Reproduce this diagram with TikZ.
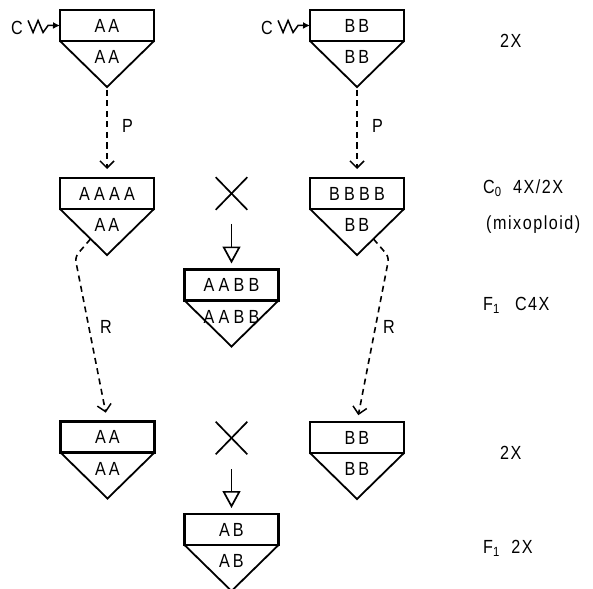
\documentclass[tikz,border=0pt]{standalone}
\usepackage{fontspec}
\setmainfont{Liberation Sans}
\newfontfamily\boxfont[LetterSpace=22,FakeStretch=0.85]{Liberation Sans}
\newfontfamily\labfont[LetterSpace=8,FakeStretch=0.85]{Liberation Sans}
\usetikzlibrary{arrows.meta,shapes.misc,calc}
\newcommand\gunit[5]{%
  \node[topbox] (#1) at (#2,#3) {#4};
  \draw[tri] (#1.south west) -- ($(#1.south)+(0,46)$) coordinate (#1-apex) -- (#1.south east);
  \node[boxtext] (#1-b) at ($(#1.south)+(0,16)$) {#5};}
\begin{document}
\begin{tikzpicture}[x=1pt,y=-1pt,
  topbox/.style={draw,line width=2.1pt,minimum width=94pt,minimum height=31pt,inner sep=0pt,outer sep=0pt,font=\boxfont\fontsize{19}{19}\selectfont},
  boxtext/.style={inner sep=0pt,font=\boxfont\fontsize{19}{19}\selectfont},
  tri/.style={line width=1.8pt,line join=miter},
  lab/.style={inner sep=0pt,anchor=base west,font=\labfont\fontsize{19}{19}\selectfont},
  dasharrow/.style={line width=1.6pt,dash pattern=on 6pt off 4.5pt,-{Straight Barb[length=7pt,width=14pt,line width=1.5pt]}},
  crossx/.style={draw,cross out,line width=1.7pt,minimum width=30pt,minimum height=31pt,inner sep=0pt},
  crossarrow/.style={line width=1.7pt,-{Triangle[open,length=17pt,width=18pt,line width=1.7pt]}},
  squig/.style={line width=1.5pt,line join=miter,-{Latex[length=7pt,width=7pt]}}
]
\useasboundingbox (0,0) rectangle (593,588);

% genotype units
\gunit{tL}{107}{25.5}{A\kern3pt A}{A\kern3pt A}
\gunit{tR}{357}{25.5}{B\kern3pt B}{B\kern3pt B}
\gunit{mL}{107}{193.5}{AAAA}{A\kern3pt A}
\gunit{mR}{357}{193.5}{BBBB}{B\kern3pt B}
\gunit{cf}{231.5}{285}{AABB}{AABB}
\gunit{bL}{107.5}{437}{A\kern3pt A}{A\kern3pt A}
\gunit{bR}{357}{437.5}{B\kern3pt B}{B\kern3pt B}
\gunit{fo}{231.5}{529.5}{A\kern3pt B}{A\kern3pt B}

% colchicine treatment
\node[lab] (cL) at (11,35) {C};
\node[lab] (cR) at (261,35) {C};
\draw[squig] (cL.east) ++(5,-8) -- ++(5,12) -- ++(5,-12) -- ++(5,12) -- ++(5,-7) -- (tL.west);
\draw[squig] (cR.east) ++(5,-8) -- ++(5,12) -- ++(5,-12) -- ++(5,12) -- ++(5,-7) -- (tR.west);

% P arrows
\draw[dasharrow,shorten <=3pt,shorten >=9pt] (tL-apex) -- (mL.north);
\draw[dasharrow,shorten <=3pt,shorten >=9pt] (tR-apex) -- (mR.north);
\node[lab] (pL) at (122,133) {P};
\node[lab] (pR) at (372,133) {P};

% R arrows
\coordinate (rLs) at ($(mL.south west)!0.65!(mL-apex)$);
\coordinate (rLc) at (75,257);
\coordinate (rRs) at ($(mR.south east)!0.65!(mR-apex)$);
\coordinate (rRc) at (389,257);
\draw[dasharrow,rounded corners=5pt,shorten >=9pt] (rLs) -- (rLc) -- (bL.north);
\draw[dasharrow,rounded corners=5pt,shorten >=7pt] (rRs) -- (rRc) -- (bR.north);
\node[lab] (rL) at (100,333) {R};
\node[lab] (rR) at (383,333) {R};

% crosses
\node[crossx] (x1) at (231.5,193.5) {};
\draw[crossarrow,shorten <=14pt,shorten >=6pt] (x1) -- (cf);
\node[crossx] (x2) at (231.5,438) {};
\draw[crossarrow,shorten <=15pt,shorten >=6pt] (x2) -- (fo);

% generation labels
\node[lab] (g1) at (500,48) {2X};
\node[lab] (g2) at (483,193) {C\textsubscript{0}\hspace{0.6em}4X/2X};
\node[lab] (g3) at (486,229) {(mixoploid)};
\node[lab] (g4) at (483,310) {F\textsubscript{1}\hspace{0.8em}C4X};
\node[lab] (g5) at (500,459) {2X};
\node[lab] (g6) at (483,553) {F\textsubscript{1}\hspace{0.6em}2X};
\end{tikzpicture}
\end{document}
